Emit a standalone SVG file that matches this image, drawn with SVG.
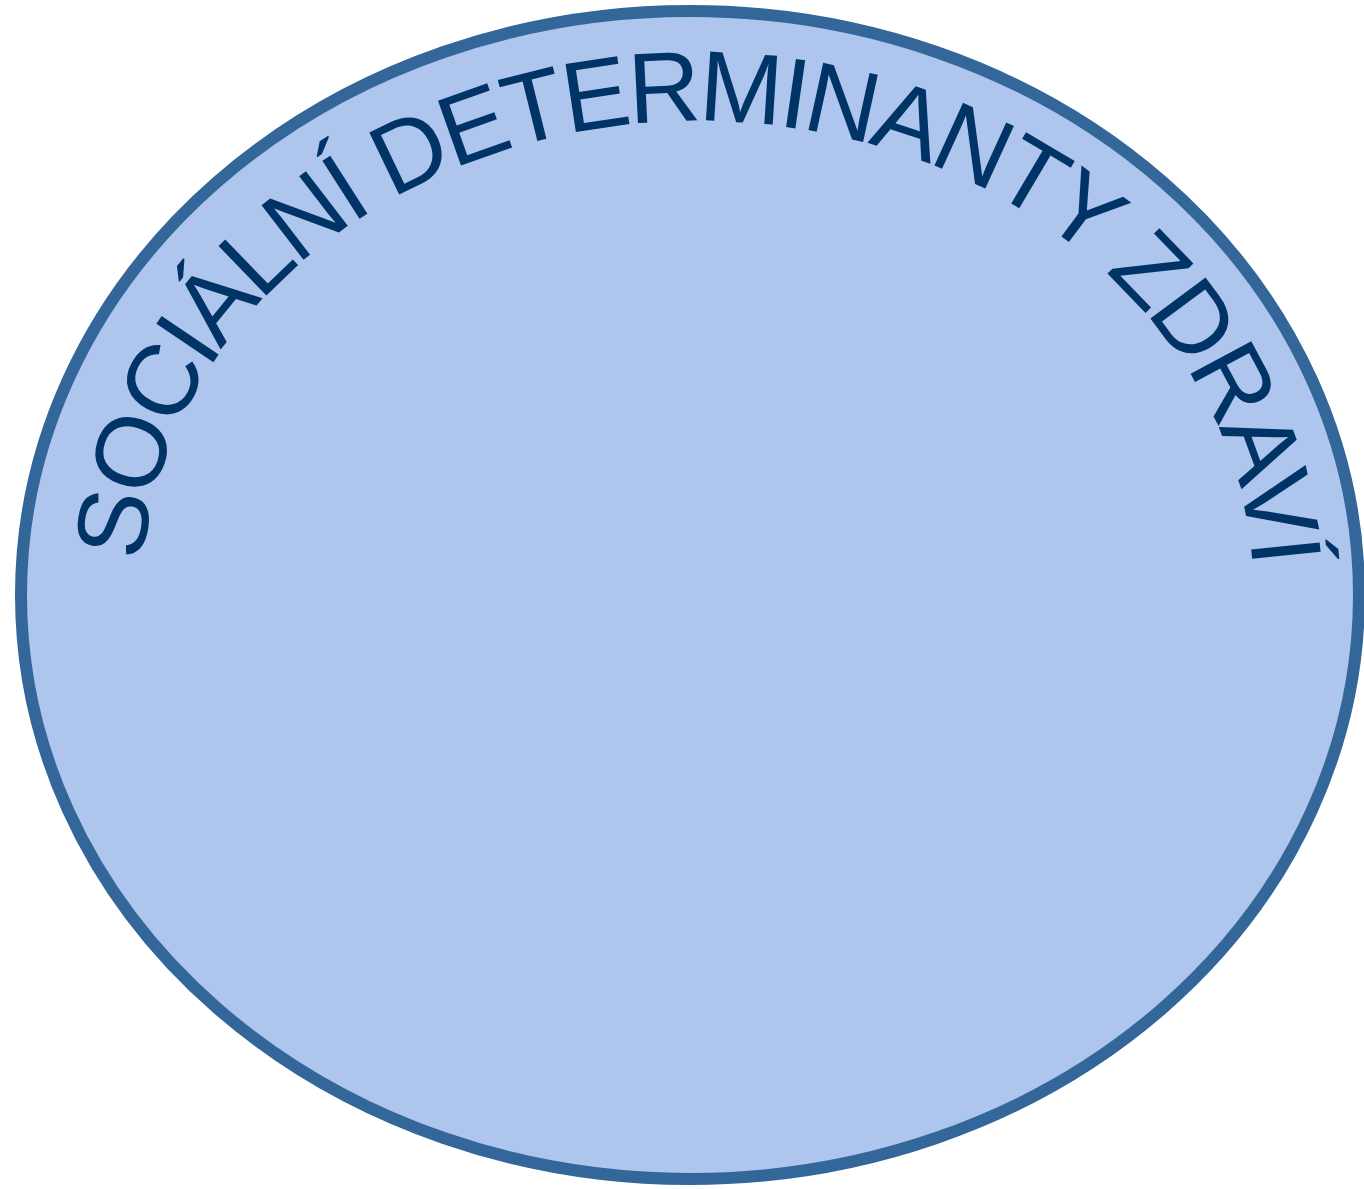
<svg xmlns="http://www.w3.org/2000/svg" xmlns:xlink="http://www.w3.org/1999/xlink" width="1364" height="1189" viewBox="0 0 1364 1189">
<style>
.circle{fill:#AEC5EE;stroke:#336699;stroke-width:12}
.title{font-family:"Liberation Sans",Arial,sans-serif;font-size:100px;fill:#003366}
</style>
<defs>
<path id="arc" d="M 143.15 562 A 556 474 0 0 1 697.8 121 A 556 474 0 0 1 1253.77 600"/>
</defs>
<rect width="1364" height="1189" fill="#FFFFFF"/>
<g id="node-circle">
<ellipse class="circle" cx="690" cy="595" rx="669" ry="584"/>
<text class="title"><textPath xlink:href="#arc" href="#arc" startOffset="0" textLength="1560" lengthAdjust="spacing">SOCIÁLNÍ DETERMINANTY ZDRAVÍ</textPath></text>
</g>
<g id="connectors"></g>
</svg>
